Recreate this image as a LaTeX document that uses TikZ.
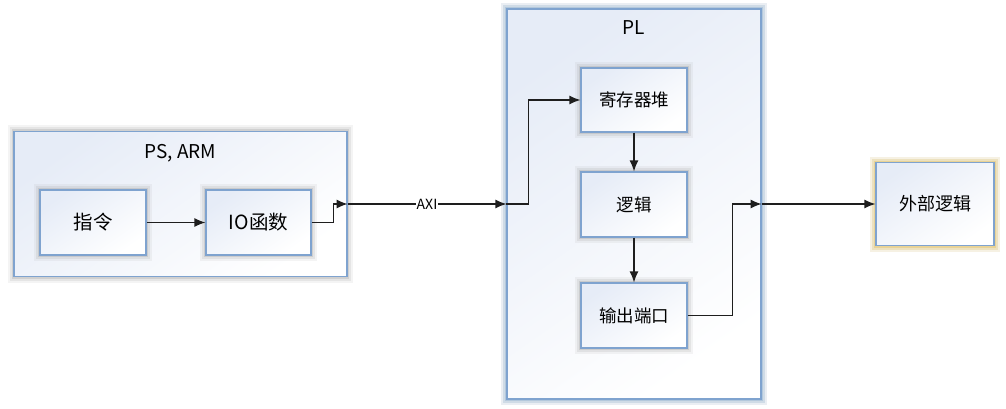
\documentclass[tikz,border=0pt]{standalone}
\usepackage{fontspec}
\setmainfont{Noto Sans CJK SC}
\usepackage{tikz}
\usetikzlibrary{arrows.meta}
\usetikzlibrary{calc}

\definecolor{boxline}{HTML}{7FA3CF}
\definecolor{boxtop}{HTML}{E6ECF7}
\definecolor{glowgrey}{HTML}{A8A8A8}
\definecolor{glowblue}{HTML}{9CC2E8}
\definecolor{glowgold}{HTML}{FFD866}
\definecolor{wire}{HTML}{1E1E1E}

\tikzset{
  glow/.style={preaction={draw=#1, line width=12pt, opacity=0.12},
               preaction={draw=#1, line width=8pt, opacity=0.20},
               preaction={draw=#1, line width=4pt, opacity=0.35}},
  blk/.style={draw=boxline, line width=1.2pt, top color=boxtop, bottom color=white,
              shading angle=35, inner sep=0pt, glow=glowgrey},
  conn/.style={draw=wire, line width=1.2pt, -{Latex[length=11pt,width=9pt]}}
}

\begin{document}
\begin{tikzpicture}[x=1pt,y=-1pt]
\useasboundingbox (0,0) rectangle (1006,409);

% outer blocks
\node[blk, minimum width=333pt, minimum height=145pt] (ps) at (180.5,204) {};
\node[blk, glow=glowblue, minimum width=254pt, minimum height=390pt] (pl) at (634,204) {};
\node[font=\fontsize{19}{22}\selectfont] (pstitle) at (180.5,153) {PS, ARM};
\node[font=\fontsize{19}{22}\selectfont] (pltitle) at (634,28) {PL};

% PS side
\node[blk, minimum width=106pt, minimum height=65pt, font=\fontsize{19.5}{22}\selectfont] (cmd) at (93,222.5) {指令};
\node[blk, minimum width=105pt, minimum height=65pt, font=\fontsize{19.5}{22}\selectfont] (iofn) at (258.5,222.5) {IO函数};

% PL side
\node[blk, minimum width=106pt, minimum height=64pt, font=\fontsize{17.5}{20}\selectfont] (regs) at (634,100) {寄存器堆};
\node[blk, minimum width=106pt, minimum height=65pt, font=\fontsize{17.5}{20}\selectfont] (logic) at (634,204.5) {逻辑};
\node[blk, minimum width=106pt, minimum height=65pt, font=\fontsize{17.5}{20}\selectfont] (port) at (634,315.5) {输出端口};

% outside
\node[blk, glow=glowgold, minimum width=118pt, minimum height=83pt, font=\fontsize{18}{20}\selectfont] (ext) at (935,204) {外部逻辑};

% wires
\draw[conn] (cmd) -- (iofn);
\draw[conn] (iofn.east) -- ++(22,0) |- (ps.east);
\draw[conn] (ps.east) -- node[fill=white, inner sep=1pt, font=\fontsize{14}{16}\selectfont] (axi) {AXI} (pl.west);
\draw[conn] (pl.west) -- ++(22,0) |- (regs.west);
\draw[conn] (regs) -- (logic);
\draw[conn] (logic) -- (port);
\draw[conn] (port.east) -- ++(45,0) |- (pl.east);
\draw[conn] (pl.east) -- (ext.west);

\end{tikzpicture}
\end{document}
